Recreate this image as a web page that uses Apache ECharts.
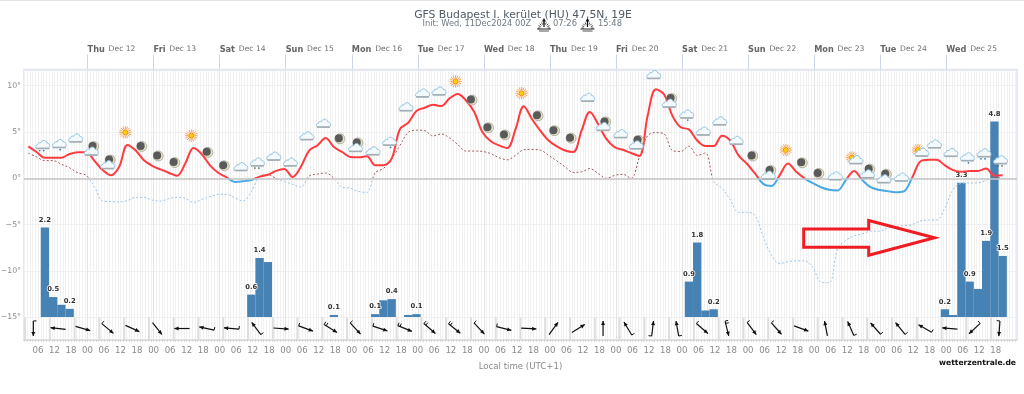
<!DOCTYPE html>
<html>
<head>
<meta charset="utf-8">
<style>html,body{margin:0;padding:0;background:#fff}#c{width:1024px;height:394px}</style>
<script src="https://cdn.jsdelivr.net/npm/echarts@6/dist/echarts.min.js"></script>
</head>
<body>
<div id="c"></div>
<script>
// ---- data (x in hours after Wed 11 Dec 00:00) ----
const dayNames = ['Thu','Fri','Sat','Sun','Mon','Tue','Wed','Thu','Fri','Sat','Sun','Mon','Tue','Wed'];
const dayDates = ['Dec 12','Dec 13','Dec 14','Dec 15','Dec 16','Dec 17','Dec 18','Dec 19','Dec 20','Dec 21','Dec 22','Dec 23','Dec 24','Dec 25'];
const tempStartHour = 2.5, tempStepHours = 3;
const temperature = [3.44,2.84,2.23,2.23,2.23,2.62,2.8,2.8,1.88,.89,.32,1.24,3.6,3.0,1.95,1.35,.96,.6,.28,1.6,
3.26,2.6,1.4,.6,.1,-.39,-.32,-.18,.18,.39,.8,1.0,.14,1.24,3.0,3.55,4.36,3.37,2.84,2.3,
2.27,2.38,1.42,1.42,2.13,5.3,6.0,7.27,7.62,7.94,7.8,8.62,9.11,8.4,7.16,4.96,4.0,3.55,3.26,
5.3,7.77,6.38,5.14,4.08,3.44,3.0,2.84,5.14,7.16,5.85,4.26,3.37,3.08,2.73,2.41,6.74,9.6,9.04,6.74,
5.5,5.28,4.08,3.48,3.48,4.6,4.08,2.48,1.6,.53,-.6,-.82,.35,1.6,.7,0,-.53,-.96,-1.24,-1.31,
-.18,.8,-.18,-.96,-1.24,-1.38,-1.5,-1.42,0,1.8,2.0,2.0,1.4,.89,.7,.8,.8,1.06,.28,.32];
const dewPoint = [2.73,2.3,1.91,1.91,1.52,1.13,.6,.32,-.9,-2.45,-2.5,-2.55,-2.4,-2.05,-2.05,-2.35,-2.45,-2.2,-2.05,-2.15,
-2.6,-2.27,-1.98,-1.73,-1.73,-2.1,-2.45,-1.44,.18,.39,0,-.35,-.64,-.96,.25,.46,.57,0,-.96,-1.06,
-1.42,-1.52,.6,1.06,2.13,3.55,4.96,5.2,5.14,4.57,4.79,4.36,3.65,2.94,2.94,2.9,2.66,2.23,2.0,
2.48,3.08,3.12,3.05,2.48,1.88,1.24,.64,.7,1.06,.53,0,.32,.43,0,2.3,4.6,4.93,4.79,3.0,
2.9,3.48,2.48,2.73,-.35,-1.06,-2.3,-3.67,-3.67,-3.97,-6.3,-8.3,-9.2,-9.0,-8.9,-8.9,-9.6,-11.2,-11.25,-7.6,
-6.7,-6.2,-6.0,-5.7,-5.7,-5.4,-5.2,-5.1,-5.0,-4.6,-4.5,-4.5,-3.2,-1.2,-.55,-.5,-.5,-.2,.1,0];
const precipHours  = [8.5,11.5,14.5,17.5,83.5,86.5,89.5,113.5,128.5,131.5,134.5,140.5,143.5,242.5,245.5,248.5,251.5,335.5,338.5,341.5,344.5,347.5,350.5,353.5,356.5];
const precipValues = [2.2,.49,.3,.2,.55,1.45,1.35,.05,.07,.41,.44,.05,.07,.87,1.83,.16,.19,.19,.05,3.3,.87,.69,1.87,4.8,1.5];
const precipLabels = ['2.2','0.5','','0.2','0.6','1.4','','0.1','0.1','','0.4','','0.1','0.9','1.8','','0.2','0.2','','3.3','0.9','','1.9','4.8','1.5'];
const iconStartHour = 7.7, iconStepHours = 6;
const iconKinds = ['rain','drizzle','cloud','mooncloud','mooncloud','sun','moon','moon','moon','sun','moon','moon','cloud','snow','cloud','cloud','cloud','cloud','moon','mooncloud','cloud','drizzle','cloud','cloud','cloud','sun','moon','moon','moon',
'sun','moon','moon','moon','cloud','mooncloud','cloud','mooncloud','cloud','mooncloud','drizzle','cloud','cloud','cloud','moon','mooncloud','sun','moon','moon','cloud','suncloud','mooncloud','mooncloud','cloud','suncloud','cloud','cloud','drizzle','rain','snow'];
const iconLevels = [3.55,3.65,4.26,3.16,1.7,4.96,3.44,2.41,1.7,4.6,2.8,1.35,1.17,1.67,2.3,1.67,4.5,5.85,4.26,3.55,2.87,3.9,7.62,9.11,9.33,10.46,8.44,5.46,4.68,
9.18,6.74,5.14,4.33,8.65,5.82,4.72,3.83,11.1,8.33,6.84,5.0,6.1,4.0,2.41,.57,3.05,1.67,.53,.18,2.13,.71,.18,.04,2.94,3.62,2.7,2.23,2.66,1.91];
const windStartHour = 4.3, windStepHours = 9;
const windBearing = [180,276,106,130,114,142,270,282,275,323,94,110,122,137,108,112,131,129,137,104,93,36,58,0,329,7,350,131,166,143,139,110,349,336,319,321,300,275,227,184];
const windBarbs   = [1,0,0,1,0,0,0,1,1,1,0,1,2,1,1,2,2,2,1,1,0,0,0,0,1,1,1,1,2,1,1,0,0,1,1,1,1,0,1,1];

// ---- scales ----
const xMin = 0.91, xMax = 361.7, yMin = -17.44, yMax = 11.74;
const range = (a, b, s) => { const r = []; for (let v = a; v <= b; v += s) r.push(v); return r; };
const dayHours = dayNames.map((_, i) => 24 * (i + 1));
const sixHours = range(6, 356, 6);
const allHours = range(1, 361, 1);
const labelFor = h => { const m = h % 24; return (m < 10 ? '0' : '') + m; };
const tempData = temperature.map((v, i) => [tempStartHour + i * tempStepHours, v]);
const dewData = dewPoint.map((v, i) => [tempStartHour + i * tempStepHours, v]);
const iconData = iconKinds.map((k, i) => [iconStartHour + i * iconStepHours, iconLevels[i], i]);
const windData = windBearing.map((b, i) => [windStartHour + i * windStepHours, -16.2, b, windBarbs[i]]);
const precipData = precipValues.map((v, i) => [precipHours[i], v]);

// ---- icon drawing ----
const cloudPath = 'M2.2 8 C-0.6 8 -0.6 4.6 2 4.4 C2.2 2.6 4 2.2 5 2.9 C6 -0.2 10.2 -0.3 11 2.9 C14.6 2.9 14.8 8 11.6 8 Z';
function cloud(dx, dy) {
  return [
    {type:'path', shape:{pathData:cloudPath, x:dx-7, y:dy-5, width:14, height:8, layout:'cover'},
     style:{fill:'#f4f9fc', stroke:'#8fc4e2', lineWidth:1}},
    {type:'rect', shape:{x:dx-6.5, y:dy+2.2, width:13, height:1.6}, style:{fill:'#a3adb3'}}
  ];
}
function moon(dx, dy) {
  return [
    {type:'circle', shape:{cx:dx, cy:dy, r:5}, style:{fill:'#e6e2c6', stroke:'#8b8b80', lineWidth:0.6}},
    {type:'circle', shape:{cx:dx-1.1, cy:dy-0.5, r:4}, style:{fill:'#5a5a5a'}}
  ];
}
function sun(dx, dy) {
  const c = [];
  for (let a = 0; a < 16; a++) {
    const t = a * Math.PI / 8;
    c.push({type:'line', shape:{x1:dx+3.2*Math.cos(t), y1:dy+3.2*Math.sin(t), x2:dx+6.2*Math.cos(t), y2:dy+6.2*Math.sin(t)},
      style:{stroke:'#fb9a4b', lineWidth:0.9}});
  }
  c.push({type:'circle', shape:{cx:dx, cy:dy, r:2.5}, style:{fill:'#ffd000', stroke:'#f78a1e', lineWidth:1}});
  return c;
}
function dots(color, xs, dy, r) {
  return xs.map(x => ({type:'circle', shape:{cx:x, cy:dy, r:r}, style:{fill:color}}));
}
function renderIcon(params, api) {
  const p = api.coord([api.value(0), api.value(1)]);
  const kind = iconKinds[api.value(2)];
  let children = [];
  if (kind === 'sun') children = sun(0, 0);
  else if (kind === 'moon') children = moon(0, 0);
  else if (kind === 'cloud') children = cloud(0, 0);
  else if (kind === 'mooncloud') children = moon(1.5, -2.5).concat(cloud(-1, 3));
  else if (kind === 'suncloud') children = sun(0, -1).concat(cloud(4, 2));
  else if (kind === 'rain') children = cloud(0, 0).concat(dots('#2f7fb8', [-3, 1], 5.2, 0.9));
  else if (kind === 'drizzle') children = cloud(0, 0).concat(dots('#2f7fb8', [1], 5.2, 0.9));
  else if (kind === 'snow') children = cloud(0, 0).concat(dots('#666', [-2.5, 1.5], 5.2, 0.9));
  return {type:'group', x:p[0], y:p[1], children:children};
}
function renderWind(params, api) {
  const h = api.value(0);
  const c = api.coord([h, api.value(1)]);
  const bearing = api.value(2) * Math.PI / 180;
  const barbs = api.value(3);
  const ux = Math.sin(bearing), uy = -Math.cos(bearing);
  const L = 7.6;
  const head = [c[0] + ux * L, c[1] + uy * L];
  const tail = [c[0] - ux * L, c[1] - uy * L];
  const kids = [];
  const sepX = api.coord([h - 3, -15])[0];
  const sepTop = api.coord([h, -15])[1], sepBot = api.coord([h, yMin])[1];
  kids.push({type:'line', z2:0, shape:{x1:sepX, y1:sepTop, x2:sepX, y2:sepBot}, style:{stroke:'#dedede', lineWidth:2}});
  kids.push({type:'line', shape:{x1:tail[0], y1:tail[1], x2:head[0], y2:head[1]}, style:{stroke:'#111', lineWidth:1.2}});
  const nx = -uy, ny = ux;
  kids.push({type:'polygon', shape:{points:[
    head,
    [head[0]-ux*4.2+nx*2, head[1]-uy*4.2+ny*2],
    [head[0]-ux*4.2-nx*2, head[1]-uy*4.2-ny*2]
  ]}, style:{fill:'#111'}});
  for (let b = 0; b < barbs; b++) {
    const bx = tail[0] + ux * b * 2.4, by = tail[1] + uy * b * 2.4;
    kids.push({type:'line', shape:{x1:bx, y1:by, x2:bx + nx*3.2 * (ux >= 0 ? -1 : 1), y2:by + ny*3.2 * (ux >= 0 ? -1 : 1)},
      style:{stroke:'#111', lineWidth:1}});
  }
  return {type:'group', children:kids};
}
function sunMark(cx, cy) {
  const rays = [];
  for (let a = 0; a <= 8; a++) {
    const t = Math.PI + a * Math.PI / 8;
    rays.push({type:'line', shape:{x1:cx+3.6*Math.cos(t), y1:cy+3.6*Math.sin(t), x2:cx+6*Math.cos(t), y2:cy+6*Math.sin(t)}, style:{stroke:'#222', lineWidth:0.8}});
  }
  return [
    ...rays,
    {type:'line', shape:{x1:cx-7, y1:cy+1, x2:cx+7, y2:cy+1}, style:{stroke:'#222', lineWidth:1}},
    {type:'line', shape:{x1:cx-5, y1:cy+3, x2:cx+5, y2:cy+3}, style:{stroke:'#222', lineWidth:0.8}},
    {type:'line', shape:{x1:cx, y1:cy-8, x2:cx, y2:cy-1}, style:{stroke:'#111', lineWidth:1.2}},
    {type:'polygon', shape:{points:[[cx,cy-10],[cx-2,cy-6.5],[cx+2,cy-6.5]]}, style:{fill:'#111'}}
  ];
}

const axisGrey = '#8a8a8a';
const fontFamily = '"DejaVu Sans", sans-serif';
const chart = echarts.init(document.getElementById('c'), null, {renderer:'canvas'});
chart.setOption({
  animation:false,
  backgroundColor:'#fff',
  textStyle:{fontFamily:fontFamily},
  title:{text:'GFS Budapest I. kerület (HU) 47,5N, 19E', left:518, top:5, textAlign:'center',
    textStyle:{fontSize:10.8, fontWeight:'normal', color:'#505a64', fontFamily:fontFamily}},
  grid:{left:24, right:7, top:69.5, bottom:54, show:true, outerBoundsMode:'none', borderColor:'#dfe4ee', borderWidth:1.5, backgroundColor:'#fff'},
  xAxis:[
    {type:'value', position:'bottom', min:xMin, max:xMax,
     axisLine:{show:true, onZero:false, lineStyle:{color:'#dcdcdc', width:1.5}},
     axisTick:{show:true, length:1.5, customValues:allHours, lineStyle:{color:'#c8c8c8'}},
     axisLabel:{customValues:sixHours, formatter:labelFor, color:axisGrey, fontSize:8.6, margin:6, hideOverlap:false, fontFamily:fontFamily},
     splitLine:{show:true, lineStyle:{color:'#f1f1f1', width:1}},
     name:'Local time (UTC+1)', nameLocation:'middle', nameGap:22,
     nameTextStyle:{color:axisGrey, fontSize:8.6, fontFamily:fontFamily}},
    {type:'value', position:'top', min:xMin, max:xMax,
     axisLine:{show:true, onZero:false, lineStyle:{color:'#dfe4ee', width:1.5}},
     axisTick:{show:true, length:15, customValues:dayHours, lineStyle:{color:'#ccd6eb', width:1}},
     axisLabel:{customValues:dayHours, align:'left', margin:14, hideOverlap:false,
       formatter:h => { const i = dayHours.indexOf(h); return i < 0 ? '' : '{d|' + dayNames[i] + '} {n|' + dayDates[i] + '}'; },
       rich:{d:{fontWeight:'bold', fontSize:8.2, color:'#666', fontFamily:fontFamily},
             n:{fontSize:7.6, color:'#6f6f6f', fontFamily:fontFamily}}},
     splitLine:{show:true, lineStyle:{color:'#e4e4e4', width:1}}}
  ],
  yAxis:[
    {type:'value', min:yMin, max:yMax,
     axisLine:{show:false}, axisTick:{show:false},
     axisLabel:{customValues:[-15,-10,-5,0,5,10], color:axisGrey, fontSize:7.8, margin:3, fontFamily:fontFamily,
       formatter:v => (v < 0 ? '\u2212' + (-v) : v) + '°'},
     splitLine:{show:true, lineStyle:{color:'#efefef', width:1}}},
    {type:'value', min:-0.565, max:6.08, show:false, splitLine:{show:false}}
  ],
  visualMap:[
    {type:'piecewise', show:false, seriesIndex:1, dimension:1,
     pieces:[{min:-30, max:0, color:'#4aa8e2'},{min:0, max:30, color:'#ff3b3f'}]},
    {type:'piecewise', show:false, seriesIndex:2, dimension:1,
     pieces:[{min:-30, max:0, color:'#9cc4e6'},{min:0, max:30, color:'#a05c5c'}]}
  ],
  series:[
    {name:'Precipitation', type:'bar', xAxisIndex:0, yAxisIndex:1, data:precipData, barWidth:8.3, z:2,
     itemStyle:{color:'#4682b4'},
     label:{show:true, position:'top', distance:4, fontSize:6.8, fontWeight:'bold', color:'#333', textBorderColor:'#fff', textBorderWidth:1.5,
       fontFamily:fontFamily, formatter:p => precipLabels[p.dataIndex]}},
    {name:'Temperature', type:'line', xAxisIndex:0, yAxisIndex:0, data:tempData, smooth:0.35, showSymbol:false, z:4,
     lineStyle:{width:2},
     markLine:{silent:true, symbol:'none', label:{show:false}, animation:false,
       lineStyle:{color:'#c4c4c4', width:1.5, type:'solid'}, data:[{yAxis:0}]}},
    {name:'Dew point', type:'line', xAxisIndex:0, yAxisIndex:0, data:dewData, smooth:0.35, showSymbol:false, z:3,
     lineStyle:{width:1, type:[2,2]}},
    {name:'Weather', type:'custom', xAxisIndex:0, yAxisIndex:0, data:iconData, renderItem:renderIcon, z:5, clip:false},
    {name:'Wind', type:'custom', xAxisIndex:0, yAxisIndex:0, data:windData, renderItem:renderWind, z:5, clip:false}
  ],
  graphic:[
    {type:'line', z:0, shape:{x1:0, y1:0.5, x2:1024, y2:0.5}, style:{stroke:'#e4e4e4', lineWidth:1}},
    {type:'text', z:10, x:422.5, y:24, style:{text:'Init: Wed, 11Dec2024 00Z', fill:'#707a82', fontSize:8.3, fontFamily:fontFamily, verticalAlign:'middle'}},
    {type:'text', z:10, x:553, y:24, style:{text:'07:26', fill:'#707a82', fontSize:8.3, fontFamily:fontFamily, verticalAlign:'middle'}},
    {type:'text', z:10, x:598, y:24, style:{text:'15:48', fill:'#707a82', fontSize:8.3, fontFamily:fontFamily, verticalAlign:'middle'}},
    {type:'group', z:10, children:sunMark(544, 28)},
    {type:'group', z:10, children:sunMark(587.5, 28)},
    {type:'text', z:10, right:8, top:359, style:{text:'wetterzentrale.de', fill:'#111', fontSize:7.6, fontWeight:'bold', fontFamily:fontFamily}},
    {type:'polygon', z:20, shape:{points:[[803.7,229],[868.7,229],[868.7,220.5],[934.5,237.7],[868.7,255.2],[868.7,247.3],[803.7,247.3]]},
     style:{fill:'none', stroke:'#f01c24', lineWidth:3}}
  ]
});
</script>
</body>
</html>
